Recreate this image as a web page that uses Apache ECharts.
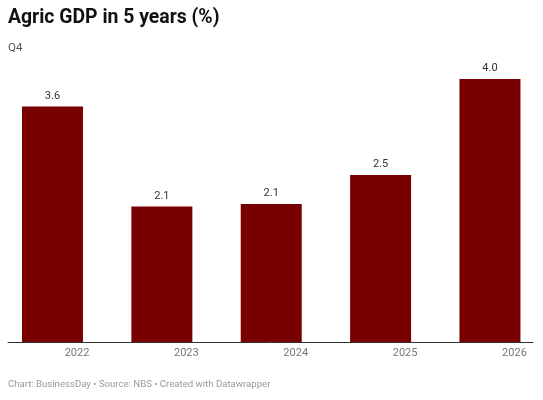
<!DOCTYPE html>
<html>
<head>
<meta charset="utf-8">
<script src="https://cdn.jsdelivr.net/npm/echarts@6/dist/echarts.min.js"></script>
<style>
  html, body { margin: 0; padding: 0; background: #fff; }
  #chart { width: 543px; height: 400px; }
</style>
</head>
<body>
<div id="chart"></div>
<script>
const years = ['2022', '2023', '2024', '2025', '2026'];
const agricGdp = [3.58, 2.06, 2.1, 2.54, 4.0];

const barColor = '#780000';

const chart = echarts.init(document.getElementById('chart'));

// bars placed on a value axis so the category spacing can run a bit past the edges
const barData = agricGdp.map((v, i) => [i, v]);

chart.setOption({
  animation: false,
  textStyle: { fontFamily: 'Roboto' },
  title: [
    {
      text: 'Agric GDP in 5 years (%)',
      left: 8,
      top: 9,
      padding: 0,
      textStyle: { fontSize: 19.4, fontWeight: 'bold', color: '#111', fontFamily: 'Roboto' }
    },
    {
      text: 'Q4',
      left: 8,
      top: 42,
      padding: 0,
      textStyle: { fontSize: 11.5, fontWeight: 'normal', color: '#555', fontFamily: 'Roboto' }
    },
    {
      text: 'Chart: BusinessDay • Source: NBS • Created with Datawrapper',
      left: 8,
      top: 380,
      padding: 0,
      textStyle: { fontSize: 9.6, fontWeight: 'normal', color: '#999', fontFamily: 'Roboto' }
    }
  ],
  grid: [
    { left: 0, right: 0, top: 79, bottom: 58 },
    { left: 8, right: 10, top: 79, bottom: 58 }
  ],
  xAxis: [
    {
      type: 'value',
      gridIndex: 0,
      min: -0.48,
      max: 4.485,
      splitLine: { show: false },
      axisLine: { show: false },
      axisTick: { show: false },
      axisLabel: {
        customValues: [0, 1, 2, 3, 4],
        formatter: (v) => years[Math.round(v)],
        color: '#777',
        fontSize: 11,
        margin: 6,
        padding: [0, 0, 0, 49]
      }
    },
    {
      type: 'value',
      gridIndex: 1,
      min: 0,
      max: 1,
      axisLine: { show: true, lineStyle: { color: '#333', width: 1 } },
      axisTick: { show: false },
      axisLabel: { show: false },
      splitLine: { show: false }
    }
  ],
  yAxis: [
    {
      type: 'value',
      gridIndex: 0,
      min: 0,
      max: 4,
      show: false,
      splitLine: { show: false }
    },
    {
      type: 'value',
      gridIndex: 1,
      show: false,
      splitLine: { show: false }
    }
  ],
  series: [
    {
      type: 'bar',
      xAxisIndex: 0,
      yAxisIndex: 0,
      data: barData,
      barWidth: 61,
      itemStyle: { color: barColor },
      label: {
        show: true,
        position: 'top',
        distance: 5,
        color: '#333',
        fontSize: 11,
        formatter: (p) => p.value[1].toFixed(1)
      }
    }
  ]
});
</script>
</body>
</html>
